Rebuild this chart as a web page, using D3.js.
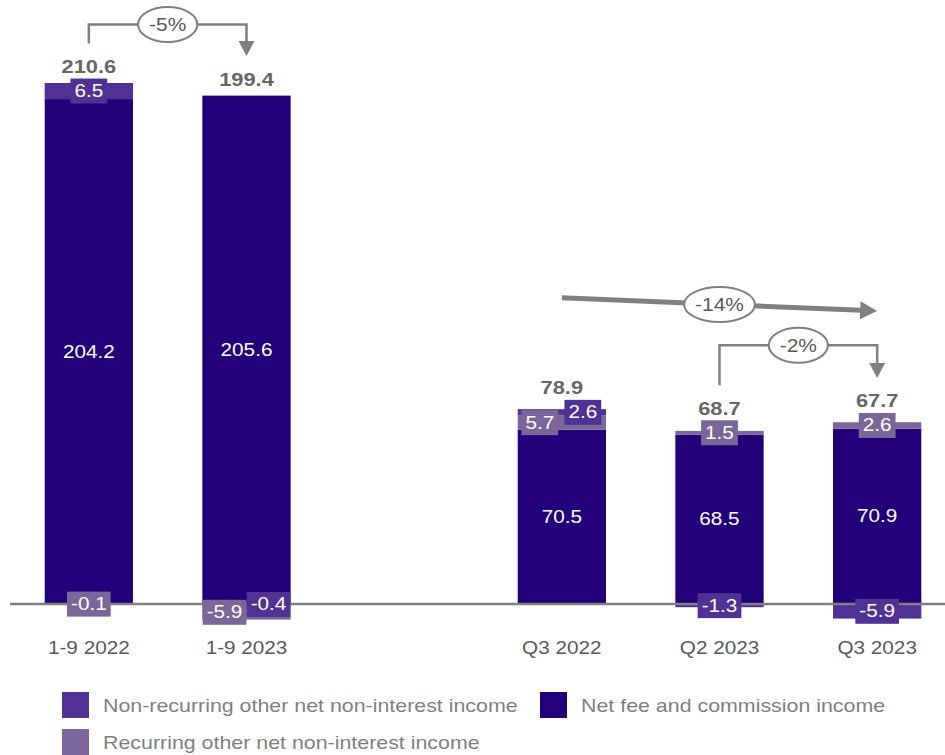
<!DOCTYPE html>
<html>
<head>
<meta charset="utf-8">
<script src="https://cdn.jsdelivr.net/npm/d3@7"></script>
<style>
  body { margin: 0; background: #fff; }
  svg { display: block; font-family: "Liberation Sans", Arial, sans-serif; }
</style>
</head>
<body>
<svg id="chart" width="945" height="755"></svg>
<script>
// Income components, EUR million
const categories = ["1-9 2022", "1-9 2023", "", "Q3 2022", "Q2 2023", "Q3 2023"];
const netFeeCommission = [204.2, 205.6, null, 70.5, 68.5, 70.9];
const recurringOther = [-0.1, -5.9, null, 5.7, 1.5, 2.6];
const nonRecurringOther = [6.5, -0.4, null, 2.6, -1.3, -5.9];
const totals = [210.6, 199.4, null, 78.9, 68.7, 67.7];

const seriesNames = {
  nonrec: "Non-recurring other net non-interest income",
  fee: "Net fee and commission income",
  rec: "Recurring other net non-interest income"
};
const colors = { fee: "#22007a", rec: "#7b6699", nonrec: "#4f3293" };

// change annotations between periods
const changeFrom = ["1-9 2022", "Q3 2022", "Q2 2023"];
const changeTo = ["1-9 2023", "Q3 2023", "Q3 2023"];
const changeLabels = ["-5%", "-14%", "-2%"];
const changeStyle = ["bracket", "trend", "bracket"];

// horizontal nudges for value labels that share a bar
const labelShift = {
  "1-9 2023": { rec: -22, nonrec: 22 },
  "Q3 2022": { rec: -22, nonrec: 21 }
};

const svg = d3.select("#chart");
const W = 945;

// widen glyphs slightly so the type sets a little broader than plain Arial
function widen(sel, k) {
  sel.each(function () {
    const w = this.getComputedTextLength();
    d3.select(this).attr("textLength", w * k).attr("lengthAdjust", "spacingAndGlyphs");
  });
  return sel;
}

const x = d3.scaleBand()
  .domain(categories)
  .range([10, 956])
  .paddingInner(0.44)
  .paddingOuter(0.22);

const y = d3.scaleLinear()
  .domain([0, 210.7])
  .range([604, 83]);

// stacked segments: positives stack fee -> rec -> nonrec,
// negatives stack nonrec -> rec downward from zero
const rows = categories.map((c, i) => ({
  cat: c, fee: netFeeCommission[i], rec: recurringOther[i], nonrec: nonRecurringOther[i], total: totals[i]
})).filter(r => r.cat !== "");

rows.forEach(r => {
  let pos = 0, neg = 0;
  r.segs = [];
  ["fee", "rec", "nonrec"].forEach(k => {
    if (r[k] > 0) { r.segs.push({ key: k, v: r[k], y0: pos, y1: pos + r[k] }); pos += r[k]; }
  });
  ["nonrec", "rec", "fee"].forEach(k => {
    if (r[k] < 0) { r.segs.push({ key: k, v: r[k], y0: neg, y1: neg + r[k] }); neg += r[k]; }
  });
  r.posTop = pos;
});

const gBars = svg.append("g");
rows.forEach(r => {
  gBars.selectAll(null)
    .data(r.segs)
    .join("rect")
    .attr("x", x(r.cat))
    .attr("width", x.bandwidth())
    .attr("y", d => y(Math.max(d.y0, d.y1)))
    .attr("height", d => Math.abs(y(d.y0) - y(d.y1)))
    .attr("fill", d => colors[d.key]);
});

// zero line
svg.append("line")
  .attr("x1", 10).attr("x2", W)
  .attr("y1", y(0)).attr("y2", y(0))
  .attr("stroke", "#808080").attr("stroke-width", 2.5);

// value labels in coloured boxes
const fmt = v => v.toFixed(1);
const gLab = svg.append("g");
rows.forEach(r => {
  const cx = x(r.cat) + x.bandwidth() / 2;
  let highest = Infinity;
  r.segs.forEach(s => {
    const shift = (labelShift[r.cat] && labelShift[r.cat][s.key]) || 0;
    const cy = (y(s.y0) + y(s.y1)) / 2;
    const g = gLab.append("g");
    const t = g.append("text")
      .attr("x", cx + shift).attr("y", cy)
      .attr("text-anchor", "middle")
      .attr("dominant-baseline", "central")
      .attr("fill", "#ffffff")
      .style("font-size", "18px")
      .text(fmt(s.v));
    widen(t, 1.15);
    const w = +t.attr("textLength");
    g.insert("rect", "text")
      .attr("x", cx + shift - w / 2 - 4).attr("y", cy - 12.5)
      .attr("width", w + 8).attr("height", 25)
      .attr("fill", colors[s.key]);
    if (s.key !== "fee") highest = Math.min(highest, cy - 12.5);
  });
  r.labelY = Math.min(y(r.posTop) - 16.5, highest - 12);
  r.cx = cx;
  const tt = gLab.append("text")
    .attr("x", cx).attr("y", r.labelY)
    .attr("text-anchor", "middle")
    .attr("dominant-baseline", "central")
    .attr("fill", "#666666")
    .style("font-size", "19px")
    .style("font-weight", "bold")
    .text(fmt(r.total));
  widen(tt, 1.15);
});

// category axis labels
svg.append("g")
  .attr("transform", `translate(0,${y(0) + 43})`)
  .call(d3.axisBottom(x).tickSize(0).tickPadding(0))
  .call(g => g.select(".domain").remove())
  .call(g => {
    const t = g.selectAll("text")
      .attr("dy", "0.35em")
      .attr("fill", "#595959")
      .style("font-size", "19px")
      .style("font-family", "'Liberation Sans', Arial, sans-serif");
    widen(t, 1.09);
  });

// change annotations
const rowBy = Object.fromEntries(rows.map(r => [r.cat, r]));
const grey = "#808080";
const gAnn = svg.append("g");
const bracketRise = { "-5%": 19, "-2%": 40 };

function arrowDown(xt, yt) {
  gAnn.append("path")
    .attr("d", `M${xt - 8},${yt - 15}L${xt + 8},${yt - 15}L${xt},${yt}Z`)
    .attr("fill", grey);
}
function bubble(cx, cy, label) {
  const g = gAnn.append("g");
  const e = g.append("ellipse");
  const t = g.append("text")
    .attr("x", cx).attr("y", cy)
    .attr("text-anchor", "middle").attr("dominant-baseline", "central")
    .attr("fill", "#595959").style("font-size", "19px")
    .text(label);
  widen(t, 1.1);
  const w = +t.attr("textLength");
  e.attr("cx", cx).attr("cy", cy)
    .attr("rx", w / 2 + 11).attr("ry", 17.5)
    .attr("fill", "#fff").attr("stroke", grey).attr("stroke-width", 2);
}

changeLabels.forEach((lab, i) => {
  const a = rowBy[changeFrom[i]], b = rowBy[changeTo[i]];
  if (changeStyle[i] === "bracket") {
    const y0 = a.labelY - 23;
    const rail = y0 - bracketRise[lab];
    const tip = b.labelY - 23;
    gAnn.append("path")
      .attr("d", `M${a.cx},${y0}V${rail}H${b.cx}V${tip - 14}`)
      .attr("fill", "none").attr("stroke", grey).attr("stroke-width", 2.5);
    arrowDown(b.cx, tip);
    bubble((a.cx + b.cx) / 2, rail, lab);
  } else {
    const y1 = a.labelY - 90, y2 = b.labelY - 90;
    const ang = Math.atan2(y2 - y1, b.cx - a.cx);
    const L = 17;
    const ex = b.cx - L * Math.cos(ang), ey = y2 - L * Math.sin(ang);
    gAnn.append("line")
      .attr("x1", a.cx).attr("y1", y1).attr("x2", ex + 1).attr("y2", ey)
      .attr("stroke", grey).attr("stroke-width", 5);
    const px = Math.sin(ang) * 9, py = -Math.cos(ang) * 9;
    gAnn.append("path")
      .attr("d", `M${ex + px},${ey + py}L${ex - px},${ey - py}L${b.cx},${y2}Z`)
      .attr("fill", grey);
    bubble((a.cx + b.cx) / 2, (y1 + y2) / 2, lab);
  }
});

// legend
const legendItems = [
  { key: "nonrec", x: 62, y: 705 },
  { key: "fee", x: 540, y: 705 },
  { key: "rec", x: 62, y: 742 }
];
const gLeg = svg.append("g");
legendItems.forEach(it => {
  gLeg.append("rect")
    .attr("x", it.x).attr("y", it.y - 13)
    .attr("width", 27).attr("height", 26)
    .attr("fill", colors[it.key]);
  const t = gLeg.append("text")
    .attr("x", it.x + 41).attr("y", it.y)
    .attr("dominant-baseline", "central")
    .attr("fill", "#7f7f7f")
    .style("font-size", "19px")
    .text(seriesNames[it.key]);
  widen(t, 1.125);
});
</script>
</body>
</html>
